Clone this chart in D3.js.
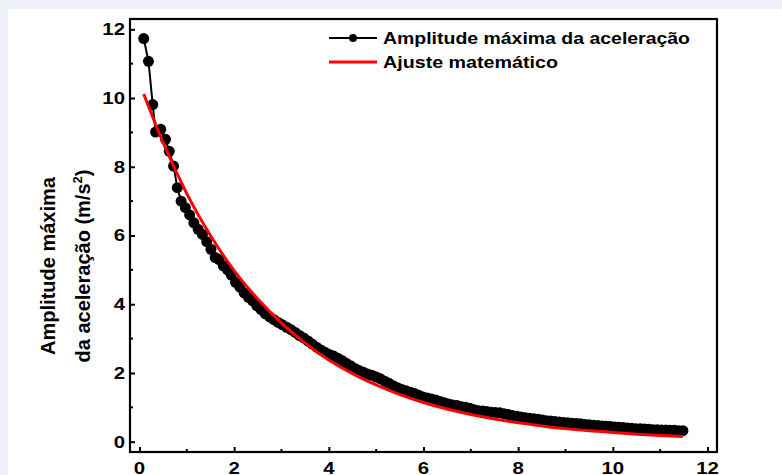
<!DOCTYPE html>
<html>
<head>
<meta charset="utf-8">
<script src="https://cdn.jsdelivr.net/npm/d3@7/dist/d3.min.js"></script>
<style>
  html, body { margin: 0; padding: 0; background: #eef1f7; }
  svg { display: block; }
  text { font-family: "Liberation Sans", Arial, sans-serif; font-weight: bold; fill: #000; }
</style>
</head>
<body>
<svg id="chart" width="782" height="475"></svg>
<script>
// Measured peak acceleration amplitude over time
const timeValues = [
  0.09, 0.19, 0.28, 0.34, 0.45, 0.55, 0.63, 0.72, 0.80, 0.88,
  0.97, 1.06, 1.15, 1.24, 1.33, 1.42, 1.51, 1.60, 1.68, 1.77,
  1.86, 1.94, 2.03, 2.12, 2.21, 2.30, 2.39, 2.48, 2.57, 2.66,
  2.75, 2.84, 2.93, 3.02, 3.11, 3.20, 3.29, 3.38, 3.47, 3.56,
  3.65, 3.74, 3.83, 3.92, 4.01, 4.10, 4.19, 4.28, 4.37, 4.46,
  4.55, 4.64, 4.73, 4.82, 4.91, 5.00, 5.09, 5.18, 5.27, 5.36,
  5.45, 5.54, 5.63, 5.72, 5.81, 5.90, 5.99, 6.08, 6.17, 6.26,
  6.35, 6.44, 6.53, 6.62, 6.71, 6.80, 6.89, 6.98, 7.07, 7.16,
  7.25, 7.34, 7.43, 7.52, 7.61, 7.70, 7.79, 7.88, 7.97, 8.06,
  8.15, 8.24, 8.33, 8.42, 8.51, 8.60, 8.69, 8.78, 8.87, 8.96,
  9.05, 9.14, 9.23, 9.32, 9.41, 9.50, 9.59, 9.68, 9.77, 9.86,
  9.95, 10.04, 10.13, 10.22, 10.31, 10.40, 10.49, 10.58, 10.67, 10.76,
  10.85, 10.94, 11.03, 11.12, 11.21, 11.30, 11.39, 11.48
];
const amplitudeValues = [
  11.73, 11.07, 9.81, 9.01, 9.09, 8.80, 8.45, 8.02, 7.39, 7.00,
  6.81, 6.60, 6.37, 6.18, 6.03, 5.82, 5.60, 5.36, 5.30, 5.12,
  5.00, 4.85, 4.64, 4.50, 4.33, 4.20, 4.10, 3.95, 3.84, 3.72,
  3.63, 3.55, 3.47, 3.40, 3.33, 3.26, 3.18, 3.09, 3.02, 2.93,
  2.84, 2.75, 2.67, 2.60, 2.54, 2.49, 2.43, 2.36, 2.28, 2.21,
  2.13, 2.07, 2.02, 1.97, 1.93, 1.88, 1.83, 1.76, 1.70, 1.63,
  1.57, 1.52, 1.48, 1.44, 1.40, 1.35, 1.30, 1.27, 1.24, 1.21,
  1.17, 1.13, 1.10, 1.07, 1.05, 1.02, 1.00, 0.97, 0.93, 0.90,
  0.89, 0.88, 0.86, 0.85, 0.84, 0.81, 0.79, 0.76, 0.74, 0.72,
  0.70, 0.68, 0.67, 0.65, 0.63, 0.61, 0.60, 0.59, 0.57, 0.56,
  0.55, 0.54, 0.53, 0.52, 0.50, 0.49, 0.48, 0.47, 0.46, 0.45,
  0.44, 0.43, 0.42, 0.41, 0.40, 0.39, 0.38, 0.38, 0.37, 0.36,
  0.35, 0.35, 0.34, 0.34, 0.33, 0.33, 0.32, 0.32
];

// Exponential fit curve
const fitTime = [
  0.09, 0.5, 1.0, 1.5, 2.0, 2.5, 3.0, 3.5, 4.0, 4.5, 5.0, 5.5,
  6.0, 6.5, 7.0, 7.5, 8.0, 8.5, 9.0, 9.5, 10.0, 10.5, 11.0, 11.48
];
const fitValues = [
  10.12, 8.70, 7.22, 6.00, 4.98, 4.15, 3.45, 2.87, 2.38, 1.98, 1.65, 1.37,
  1.14, 0.95, 0.79, 0.66, 0.55, 0.46, 0.38, 0.32, 0.27, 0.22, 0.18, 0.15
];

const xTicks = [0, 2, 4, 6, 8, 10, 12];
const yTicks = [0, 2, 4, 6, 8, 10, 12];
const legendLabels = ["Amplitude máxima da aceleração", "Ajuste matemático"];

const svg = d3.select("#chart");

// white page area
svg.append("rect").attr("x", 8).attr("y", 9).attr("width", 774).attr("height", 466).attr("fill", "#fff");

const plot = { left: 130, top: 19, right: 717, bottom: 452 };

const x = d3.scaleLinear().domain([-0.2, 12.2]).range([plot.left, plot.right]);
const y = d3.scaleLinear().domain([-0.3, 12.3]).range([plot.bottom, plot.top]);

svg.append("clipPath").attr("id", "clip")
  .append("rect").attr("x", plot.left).attr("y", plot.top)
  .attr("width", plot.right - plot.left).attr("height", plot.bottom - plot.top);

const g = svg.append("g").attr("clip-path", "url(#clip)");

const measured = timeValues.map((t, i) => [t, amplitudeValues[i]]);
const fit = fitTime.map((t, i) => [t, fitValues[i]]);

const line = d3.line().x(d => x(d[0])).y(d => y(d[1]));

g.append("path").datum(measured).attr("d", line)
  .attr("fill", "none").attr("stroke", "#000").attr("stroke-width", 2);

g.selectAll("circle.pt").data(measured).join("circle").attr("class", "pt")
  .attr("cx", d => x(d[0])).attr("cy", d => y(d[1])).attr("r", 5.5).attr("fill", "#000");

g.append("path").datum(fit).attr("d", line.curve(d3.curveMonotoneX))
  .attr("fill", "none").attr("stroke", "#ff0000").attr("stroke-width", 3);

// frame
svg.append("rect").attr("x", plot.left).attr("y", plot.top)
  .attr("width", plot.right - plot.left).attr("height", plot.bottom - plot.top)
  .attr("fill", "none").attr("stroke", "#000").attr("stroke-width", 2.2);

// bottom axis: inward ticks, labels drawn slightly widened
const xAxis = d3.axisBottom(x).tickValues(xTicks).tickSize(-5).tickFormat("");
const gx = svg.append("g").attr("transform", `translate(0,${plot.bottom})`).call(xAxis);
gx.select(".domain").remove();
gx.selectAll(".tick line").attr("stroke", "#000").attr("stroke-width", 2);
svg.append("g").selectAll("text").data(xTicks).join("text")
  .attr("transform", d => `translate(${x(d)},${plot.bottom + 10}) scale(1.2,1)`)
  .attr("text-anchor", "middle").attr("dy", "0.71em").attr("font-size", 17)
  .text(d3.format("d"));

const xMinor = d3.range(1, 12, 2);
svg.append("g").selectAll("line").data(xMinor).join("line")
  .attr("x1", d => x(d)).attr("x2", d => x(d))
  .attr("y1", plot.bottom).attr("y2", plot.bottom - 3)
  .attr("stroke", "#000").attr("stroke-width", 2);

// left axis: inward ticks
const yAxis = d3.axisLeft(y).tickValues(yTicks).tickSize(-5).tickFormat("");
const gy = svg.append("g").attr("transform", `translate(${plot.left},0)`).call(yAxis);
gy.select(".domain").remove();
gy.selectAll(".tick line").attr("stroke", "#000").attr("stroke-width", 2);
svg.append("g").selectAll("text").data(yTicks).join("text")
  .attr("transform", d => `translate(${plot.left - 5},${y(d)}) scale(1.2,1)`)
  .attr("text-anchor", "end").attr("dy", "0.35em").attr("font-size", 17)
  .text(d3.format("d"));

const yMinor = d3.range(1, 12, 2);
svg.append("g").selectAll("line").data(yMinor).join("line")
  .attr("x1", plot.left).attr("x2", plot.left + 3)
  .attr("y1", d => y(d)).attr("y2", d => y(d))
  .attr("stroke", "#000").attr("stroke-width", 2);

// y-axis title, two lines
const yTitle = svg.append("g").attr("transform", "translate(0,266) rotate(-90)");
yTitle.append("text").attr("x", 0).attr("y", 55).attr("text-anchor", "middle")
  .attr("font-size", 20).text("Amplitude máxima");
const t2 = yTitle.append("text").attr("x", 0).attr("y", 90).attr("text-anchor", "middle")
  .attr("font-size", 20);
t2.append("tspan").text("da aceleração (m/s");
t2.append("tspan").attr("font-size", 13).attr("dy", -8).text("2");
t2.append("tspan").attr("dy", 8).text(")");

// legend
const legend = svg.append("g");
const legRows = [
  { label: legendLabels[0], color: "#000", marker: true, y: 38, len: 307 },
  { label: legendLabels[1], color: "#ff0000", marker: false, y: 62, len: 175 }
];
legRows.forEach(r => {
  legend.append("line").attr("x1", 329).attr("x2", 377).attr("y1", r.y).attr("y2", r.y)
    .attr("stroke", r.color).attr("stroke-width", r.marker ? 2 : 3);
  if (r.marker) legend.append("circle").attr("cx", 353).attr("cy", r.y).attr("r", 4).attr("fill", r.color);
  legend.append("text").attr("x", 383).attr("y", r.y).attr("dy", "0.35em")
    .attr("font-size", 17).attr("textLength", r.len).attr("lengthAdjust", "spacingAndGlyphs")
    .text(r.label);
});
</script>
</body>
</html>
